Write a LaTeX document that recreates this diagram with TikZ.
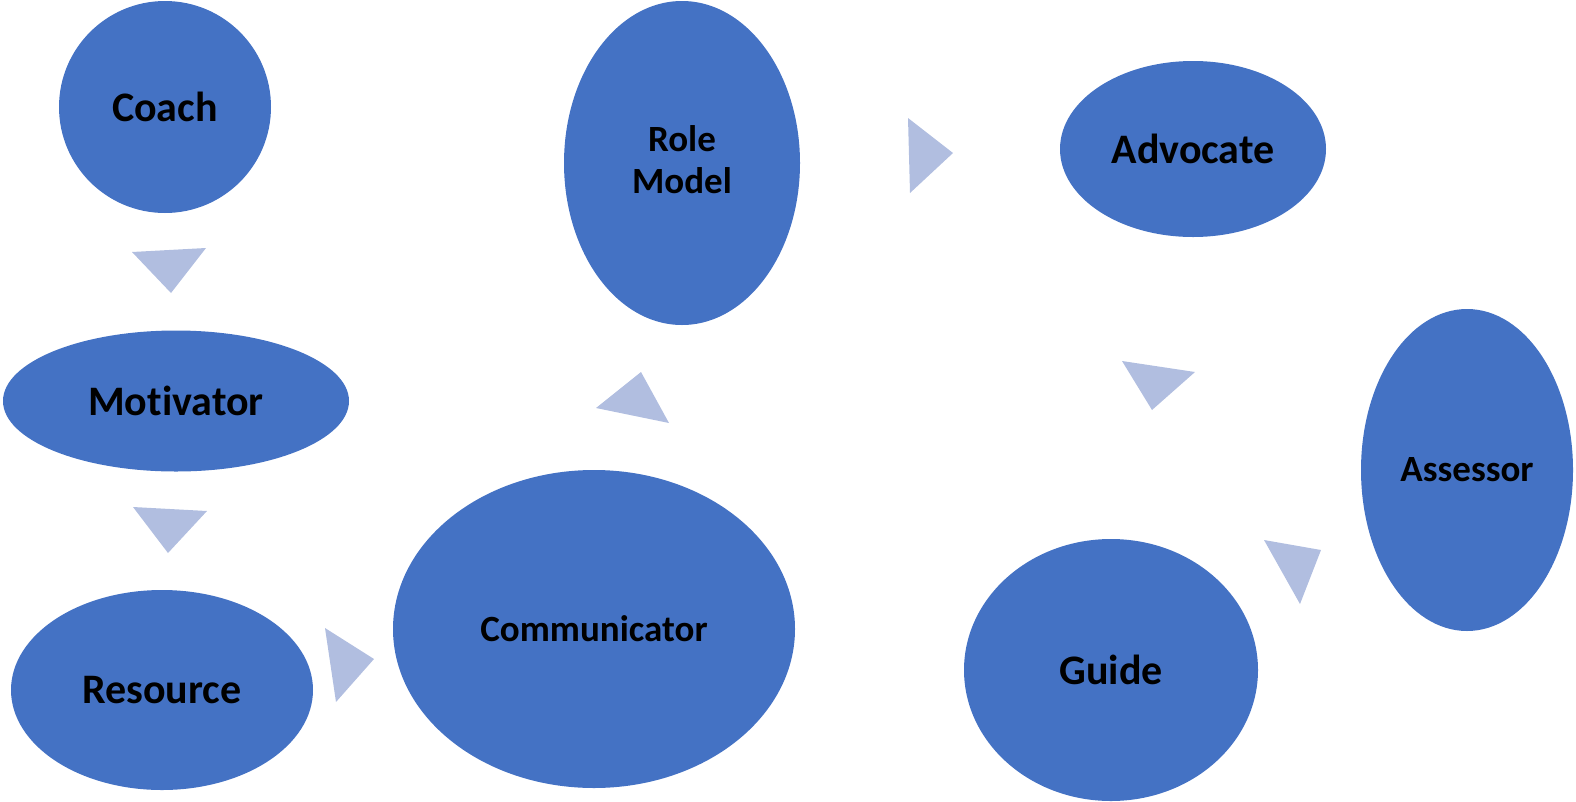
\documentclass[tikz,border=0pt]{standalone}
\usepackage{fontspec}
\setmainfont{Carlito}[Ligatures=NoCommon]
\usetikzlibrary{shapes.geometric}
\definecolor{rolefill}{HTML}{4472C4}
\definecolor{arrowfill}{HTML}{B1BEE0}
\tikzset{
  role/.style={ellipse, fill=rolefill, draw=none, inner sep=0pt,
    font=\bfseries\fontsize{42}{46}\selectfont, text=black, align=center},
  rolesmall/.style={role, font=\bfseries\fontsize{37}{42}\selectfont},
  flowtri/.style={fill=arrowfill, draw=none}
}
\begin{document}
\begin{tikzpicture}[x=1pt, y=-1pt]
  \useasboundingbox (0,0) rectangle (1576,801);

  % roles
  \node[role, minimum width=212, minimum height=212] (coach) at (165,107) {Coach};
  \node[role, minimum width=346, minimum height=141] (motivator) at (176,401) {Motivator};
  \node[role, minimum width=302, minimum height=200] (resource) at (162,690) {Resource};
  \node[rolesmall, minimum width=402, minimum height=318] (communicator) at (594,629) {Communicator};
  \node[rolesmall, minimum width=236, minimum height=324] (rolemodel) at (682,163) {};
  \node[rolesmall, inner sep=0pt] (rolemodeltext) at ([yshift=3pt]rolemodel.center) {Role\\Model};
  \node[role, minimum width=266, minimum height=176] (advocate) at (1193,149) {Advocate};
  \node[rolesmall, minimum width=212, minimum height=322] (assessor) at (1467,470) {Assessor};
  \node[role, minimum width=294, minimum height=262] (guide) at (1111,670) {Guide};

  % triangular flow markers between successive roles
  \fill[flowtri] (132,252) -- (206,248) -- (171,293) -- cycle; % coach -> motivator
  \fill[flowtri] (133,507) -- (207,511) -- (168,553) -- cycle; % motivator -> resource
  \fill[flowtri] (325,628) -- (374,659) -- (336,702) -- cycle; % resource -> communicator
  \fill[flowtri] (641,372) -- (596,408) -- (669,423) -- cycle; % communicator -> role model
  \fill[flowtri] (908,118) -- (953,153) -- (910,193) -- cycle; % role model -> advocate
  \fill[flowtri] (1122,361) -- (1195,372) -- (1152,410) -- cycle; % advocate -> guide
  \fill[flowtri] (1264,540) -- (1321,550) -- (1300,604) -- cycle; % guide -> assessor
\end{tikzpicture}
\end{document}
